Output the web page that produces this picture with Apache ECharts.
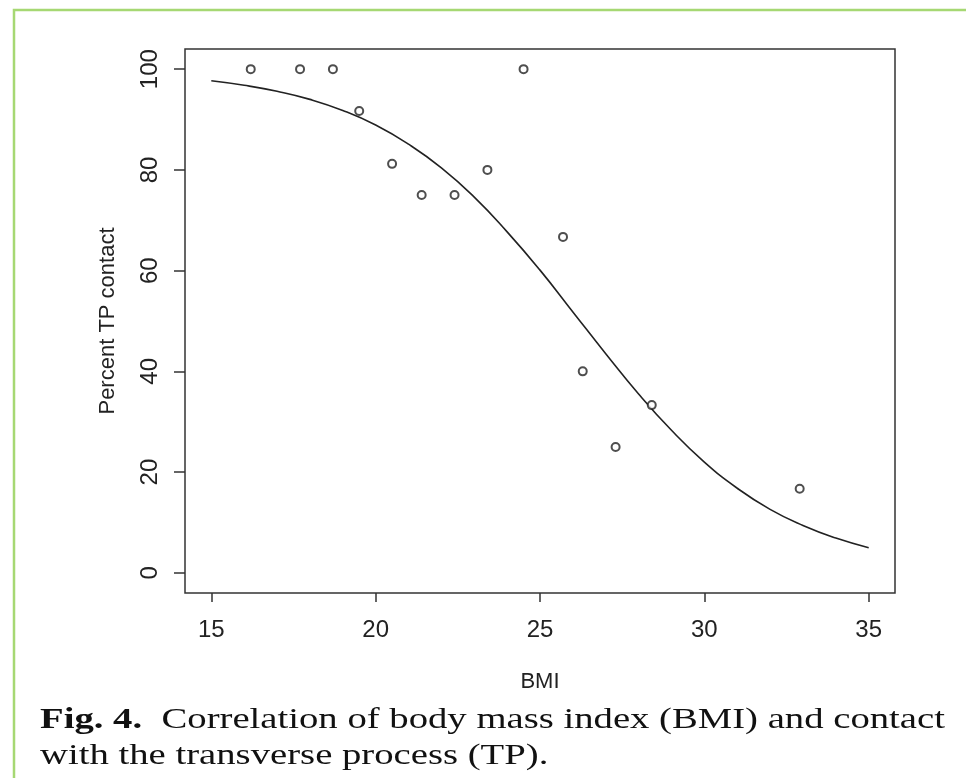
<!DOCTYPE html>
<html>
<head>
<meta charset="utf-8">
<script src="https://cdn.jsdelivr.net/npm/echarts@6/dist/echarts.min.js"></script>
<style>
  html, body { margin: 0; padding: 0; background: #fff; }
  #main { width: 966px; height: 778px; }
</style>
</head>
<body>
<div id="main"></div>
<script>
// observed points (BMI, percent TP contact)
var bmi = [16.2, 17.7, 18.7, 19.5, 20.5, 21.4, 22.4, 23.4, 24.5, 25.7, 26.3, 27.3, 28.4, 32.9];
var pctContact = [100, 100, 100, 91.7, 81.2, 75, 75, 80, 100, 66.7, 40, 25, 33.3, 16.7];

// fitted curve at each BMI unit
var curveBmi = [15, 16, 17, 18, 19, 20, 21, 22, 23, 24, 25, 26, 27, 28, 29, 30, 31, 32, 33, 34, 35];
var curvePct = [97.7, 96.8, 95.6, 94.0, 91.8, 88.9, 85.1, 80.4, 74.6, 67.7, 60.1, 51.8, 43.5, 35.5, 28.3, 22.0, 16.8, 12.6, 9.4, 6.9, 5.0];

var xTicks = [15, 20, 25, 30, 35];
var yTicks = [0, 20, 40, 60, 80, 100];

var chart = echarts.init(document.getElementById('main'));

var axisFont = 'Liberation Sans, Arial, sans-serif';
var serif = 'Liberation Serif, Times New Roman, serif';

var option = {
  animation: false,
  grid: {
    left: 185,
    right: 71,
    top: 49,
    bottom: 185,
    show: true,
    borderColor: '#333',
    borderWidth: 1.5
  },
  xAxis: {
    type: 'value',
    min: 14.2,
    max: 35.8,
    name: 'BMI',
    nameLocation: 'middle',
    nameGap: 78,
    nameTextStyle: { fontFamily: axisFont, fontSize: 22, color: '#222' },
    axisLine: { show: false, onZero: false },
    axisTick: { show: true, customValues: xTicks, length: 9, lineStyle: { color: '#333', width: 1.5 } },
    axisLabel: { customValues: xTicks, margin: 25, fontFamily: axisFont, fontSize: 24, color: '#222' },
    splitLine: { show: false }
  },
  yAxis: {
    type: 'value',
    min: -4,
    max: 104,
    name: 'Percent TP contact',
    nameLocation: 'middle',
    nameRotate: 90,
    nameGap: 66,
    nameTextStyle: { fontFamily: axisFont, fontSize: 22, color: '#222' },
    axisLine: { show: false, onZero: false },
    axisTick: { show: true, customValues: yTicks, length: 11, lineStyle: { color: '#333', width: 1.5 } },
    axisLabel: { customValues: yTicks, rotate: 90, margin: 23, fontFamily: axisFont, fontSize: 24, color: '#222' },
    splitLine: { show: false }
  },
  series: [{
    type: 'line',
    data: curveBmi.map(function (x, i) { return [x, curvePct[i]]; }),
    smooth: true,
    showSymbol: false,
    lineStyle: { color: '#222', width: 1.6 },
    z: 2
  }, {
    type: 'scatter',
    data: bmi.map(function (x, i) { return [x, pctContact[i]]; }),
    symbol: 'emptyCircle',
    symbolSize: 8,
    itemStyle: { color: '#222', borderColor: '#222', borderWidth: 1.5 },
    z: 3
  }],
  graphic: [{
    type: 'polyline',
    shape: { points: [[14, 980], [14, 10], [980, 10]] },
    style: { fill: null, stroke: '#a6d873', lineWidth: 2.5 }
  }, {
    type: 'text',
    x: 40,
    y: 702,
    scaleX: 1.29,
    style: {
      text: '{b|Fig. 4.}  Correlation of body mass index (BMI) and contact\nwith the transverse process (TP).',
      fontFamily: serif,
      fontSize: 30,
      lineHeight: 36,
      fill: '#111',
      rich: {
        b: { fontWeight: 'bold', fontFamily: serif, fontSize: 30, lineHeight: 36 }
      }
    }
  }]
};

chart.setOption(option);
</script>
</body>
</html>
